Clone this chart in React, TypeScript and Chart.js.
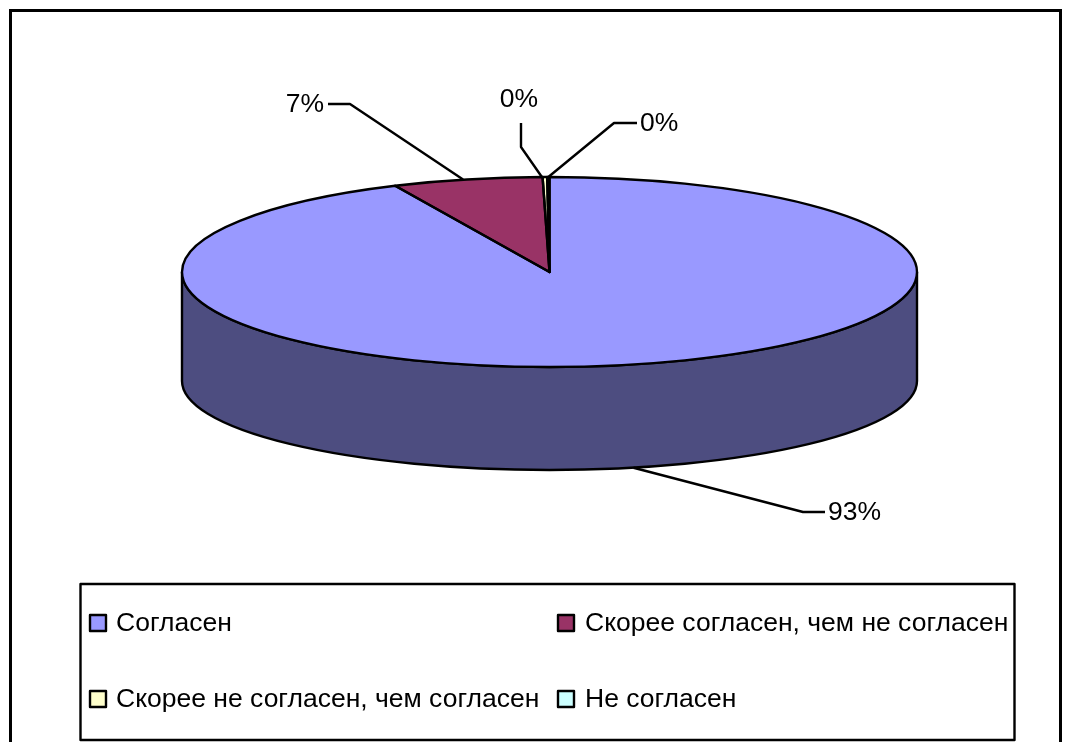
import React, { useEffect, useRef } from "react";
import { Chart, registerables } from "chart.js";

Chart.register(...registerables);

const categories = [
  "Согласен",
  "Скорее согласен, чем не согласен",
  "Скорее не согласен, чем согласен",
  "Не согласен",
];
const shares = [93.1, 6.6, 0.2, 0.1];
const sliceColors = ["#9999FF", "#993366", "#FFFFCC", "#CCFFFF"];

const FONT = '26.5px "Liberation Sans", Arial, sans-serif';
const RX = 367.5;
const RY = 95;
const WALL_DROP = 109;
const WALL_RY = 89;
const LINE = 2.4;

// Label layout: text position, leader elbow, leader end near the text, shift of the anchor on the rim
const labelLayout = [
  { tx: 828, ty: 513, align: "left", ex: 803, ey: 512, lx: 825, ly: 512, ax: 5, ay: 103 },
  { tx: 324, ty: 105, align: "right", ex: 350, ey: 104, lx: 328, ly: 104, ax: -4, ay: 0 },
  { tx: 519, ty: 100, align: "center", ex: 521, ey: 147, lx: 521, ly: 123, ax: -3, ay: 0 },
  { tx: 640, ty: 124, align: "left", ex: 614, ey: 123, lx: 637, ly: 123, ax: 0, ay: 0 },
];

const legendBox = { x: 80.5, y: 584, w: 934, h: 156 };
const legendItems = [
  { sx: 90, tx: 116, y: 623 },
  { sx: 558, tx: 585, y: 623 },
  { sx: 90, tx: 116, y: 699 },
  { sx: 558, tx: 585, y: 699 },
];

function darken(hex: string) {
  const n = parseInt(hex.slice(1), 16);
  const f = (v: number) => Math.round(v * 0.502);
  return `rgb(${f((n >> 16) & 255)},${f((n >> 8) & 255)},${f(n & 255)})`;
}

const pie3d = {
  id: "pie3d",
  beforeDatasetsDraw(chart: any) {
    const ctx = chart.ctx;
    const arcs = chart.getDatasetMeta(0).data;
    const { x: cx, y: cy, outerRadius: R } = arcs[0];

    ctx.save();
    ctx.fillStyle = "#fff";
    ctx.fillRect(0, 0, chart.width, chart.height);
    ctx.strokeStyle = "#000";
    ctx.lineWidth = 3;
    ctx.strokeRect(10.5, 10.5, 1050, 800);
    ctx.restore();

    // front wall of each slice
    arcs.forEach((arc: any, i: number) => {
      for (const shift of [0, Math.PI * 2, -Math.PI * 2]) {
        const a = Math.max(arc.startAngle + shift, 0);
        const b = Math.min(arc.endAngle + shift, Math.PI);
        if (b <= a) continue;
        ctx.save();
        ctx.beginPath();
        ctx.ellipse(cx, cy, RX, RY, 0, a, b);
        ctx.ellipse(cx, cy + WALL_DROP, RX, WALL_RY, 0, b, a, true);
        ctx.closePath();
        ctx.fillStyle = darken(sliceColors[i]);
        ctx.fill();
        ctx.strokeStyle = "#000";
        ctx.lineWidth = LINE;
        ctx.stroke();
        ctx.restore();
      }
    });

    ctx.save();
    ctx.translate(cx, cy);
    ctx.scale(RX / R, RY / R);
    ctx.translate(-cx, -cy);
  },
  afterDatasetsDraw(chart: any) {
    const ctx = chart.ctx;
    ctx.restore();
    const arcs = chart.getDatasetMeta(0).data;
    const { x: cx, y: cy } = arcs[0];

    // slice outlines keep an even width on the squashed pie
    ctx.save();
    ctx.strokeStyle = "#000";
    ctx.lineWidth = LINE;
    ctx.lineJoin = "round";
    arcs.forEach((arc: any) => {
      ctx.beginPath();
      ctx.moveTo(cx, cy);
      ctx.ellipse(cx, cy, RX, RY, 0, arc.startAngle, arc.endAngle);
      ctx.closePath();
      ctx.stroke();
    });

    // leaders and percentage labels
    ctx.font = FONT;
    ctx.textBaseline = "middle";
    ctx.fillStyle = "#000";
    const total = shares.reduce((s, v) => s + v, 0);
    arcs.forEach((arc: any, i: number) => {
      const mid = (arc.startAngle + arc.endAngle) / 2;
      const p = labelLayout[i];
      ctx.beginPath();
      ctx.moveTo(cx + RX * Math.cos(mid) + p.ax, cy + RY * Math.sin(mid) + p.ay);
      ctx.lineTo(p.ex, p.ey);
      ctx.lineTo(p.lx, p.ly);
      ctx.stroke();
      ctx.textAlign = p.align;
      ctx.fillText(`${Math.round((shares[i] / total) * 100)}%`, p.tx, p.ty);
    });

    // legend
    ctx.strokeRect(legendBox.x, legendBox.y, legendBox.w, legendBox.h);
    ctx.textAlign = "left";
    categories.forEach((name, i) => {
      const it = legendItems[i];
      ctx.fillStyle = sliceColors[i];
      ctx.fillRect(it.sx, it.y - 8, 16, 16);
      ctx.strokeRect(it.sx, it.y - 8, 16, 16);
      ctx.fillStyle = "#000";
      ctx.fillText(name, it.tx, it.y + 1);
    });
    ctx.restore();
  },
};

export default function App() {
  const ref = useRef<HTMLCanvasElement>(null);
  useEffect(() => {
    const chart = new Chart(ref.current!, {
      type: "pie",
      data: {
        labels: categories,
        datasets: [
          { data: shares, backgroundColor: sliceColors, borderWidth: 0, clip: false } as any,
        ],
      },
      options: {
        animation: false,
        responsive: false,
        rotation: 0,
        layout: { padding: { left: 277.5, right: 251.5, top: 0, bottom: 198 } },
        plugins: { legend: { display: false }, tooltip: { enabled: false } },
      },
      plugins: [pie3d],
    });
    return () => chart.destroy();
  }, []);
  return (
    <canvas
      ref={ref}
      width={1073}
      height={742}
      style={{ position: "absolute", left: 0, top: 0, width: 1073, height: 742 }}
    />
  );
}
